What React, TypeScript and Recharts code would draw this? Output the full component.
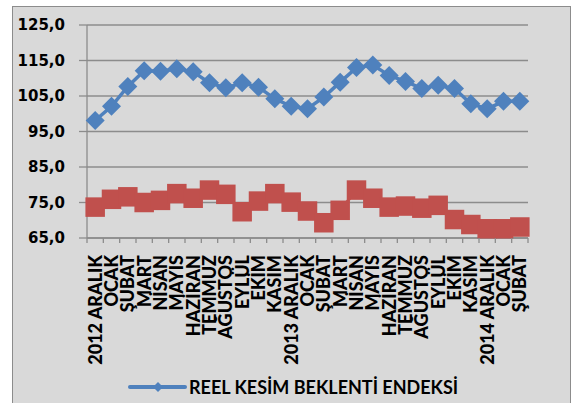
import React from 'react'
import { LineChart, Line, XAxis, YAxis, CartesianGrid, Legend } from 'recharts'

// Reel kesim beklenti endeksi, Excel 2007 tarzı gri zemin.

const aylar = [
  '2012 ARALIK', 'OCAK', 'ŞUBAT', 'MART', 'NİSAN', 'MAYIS', 'HAZİRAN', 'TEMMUZ', 'AĞUSTOS', 'EYLÜL', 'EKİM', 'KASIM',
  '2013 ARALIK', 'OCAK', 'ŞUBAT', 'MART', 'NİSAN', 'MAYIS', 'HAZİRAN', 'TEMMUZ', 'AĞUSTOS', 'EYLÜL', 'EKİM', 'KASIM',
  '2014 ARALIK', 'OCAK', 'ŞUBAT',
]
const reelKesim = [
  98.1, 102.1, 107.7, 112.1, 112.0, 112.7, 111.8, 108.7, 107.3, 108.7, 107.5, 104.2,
  102.1, 101.4, 104.7, 108.9, 113.0, 113.7, 110.8, 109.1, 107.1, 108.0, 107.1, 102.8,
  101.4, 103.5, 103.5,
]
const ikinciSeri = [
  73.7, 75.9, 76.6, 75.0, 75.6, 77.5, 76.2, 78.5, 77.3, 72.4, 75.4, 77.5,
  75.1, 72.6, 69.3, 72.8, 78.5, 76.2, 73.7, 74.0, 73.4, 74.2, 70.2, 68.8,
  67.6, 67.6, 68.1,
]
const yTicks = [65, 75, 85, 95, 105, 115, 125]
const legendName = 'REEL KESİM BEKLENTİ ENDEKSİ'

const data = aylar.map((ay, i) => ({ ay, reel: reelKesim[i], diger: ikinciSeri[i] }))

const BLUE = '#4f81bd'
const RED = '#c0504d'
const GRID = '#8c8c8c'
const BG = '#d9d9d9'

const W = 557
const H = 409
const PLOT_LEFT = 74
const PLOT_TOP = 18
const PLOT_W = 441
const PLOT_H = 213
const BAND = PLOT_W / aylar.length

function Diamond({ cx, cy }: any) {
  if (cx == null || cy == null) return null
  const r = 9.5
  return <polygon points={`${cx},${cy - r} ${cx + r},${cy} ${cx},${cy + r} ${cx - r},${cy}`} fill={BLUE} />
}

function Square({ cx, cy }: any) {
  if (cx == null || cy == null) return null
  const s = 19.5
  return <rect x={cx - s / 2} y={cy - s / 2} width={s} height={s} fill={RED} />
}

function AyTick({ x, y, payload, index }: any) {
  const last = index === aylar.length - 1
  return (
    <g>
      <line x1={x - BAND / 2} x2={x - BAND / 2} y1={y} y2={y + 5} stroke={GRID} strokeWidth={1.3} />
      {last && <line x1={x + BAND / 2} x2={x + BAND / 2} y1={y} y2={y + 5} stroke={GRID} strokeWidth={1.3} />}
      <text
        transform={`translate(${x}, ${y + 17}) rotate(-90)`}
        textAnchor="end"
        dy="0.36em"
        fontFamily="Lato"
        fontWeight={900}
        fontSize={18}
        fill="#000"
      >
        {payload.value}
      </text>
    </g>
  )
}

function LegendBox() {
  return (
    <svg width={380} height={26}>
      <line x1={7} x2={62} y1={13} y2={13} stroke={BLUE} strokeWidth={4} strokeLinecap="round" />
      <polygon points="35,8 40,13 35,18 30,13" fill={BLUE} />
      <text x={66} y={19.5} fontFamily="Lato" fontWeight={700} fontSize={18} fill="#000">
        {legendName}
      </text>
    </svg>
  )
}

export default function App() {
  return (
    <div
      style={{
        position: 'absolute',
        left: 12,
        top: 6,
        width: W,
        height: H,
        border: `1px solid ${GRID}`,
        background: BG,
      }}
    >
      <LineChart
        width={W}
        height={H}
        data={data}
        margin={{ top: PLOT_TOP, right: W - PLOT_LEFT - PLOT_W, left: 0, bottom: H - PLOT_TOP - PLOT_H - 150 }}
      >
        <CartesianGrid stroke={GRID} strokeWidth={1.3} vertical={false} />
        <XAxis
          dataKey="ay"
          interval={0}
          padding={{ left: BAND / 2, right: BAND / 2 }}
          height={150}
          tickSize={0}
          tickMargin={0}
          tickLine={false}
          axisLine={{ stroke: GRID, strokeWidth: 1.3 }}
          tick={<AyTick />}
        />
        <YAxis
          width={PLOT_LEFT}
          domain={[65, 125]}
          ticks={yTicks}
          interval={0}
          tickSize={8}
          tickMargin={14}
          tickLine={{ stroke: GRID, strokeWidth: 1.3 }}
          axisLine={{ stroke: GRID, strokeWidth: 1.3 }}
          tick={{ fontFamily: 'DejaVu Sans', fontWeight: 700, fontSize: 15, fill: '#000' }}
          tickFormatter={(v) => v.toFixed(1).replace('.', ',')}
        />
        <Legend
          layout="horizontal"
          verticalAlign="middle"
          align="center"
          content={<LegendBox />}
          wrapperStyle={{ top: 367, left: 110, width: 380, height: 26 }}
        />
        <Line
          dataKey="diger"
          stroke={RED}
          strokeWidth={3}
          dot={<Square />}
          activeDot={false}
          legendType="none"
          isAnimationActive={false}
        />
        <Line
          dataKey="reel"
          name={legendName}
          stroke={BLUE}
          strokeWidth={3.5}
          dot={<Diamond />}
          activeDot={false}
          isAnimationActive={false}
        />
      </LineChart>
    </div>
  )
}
